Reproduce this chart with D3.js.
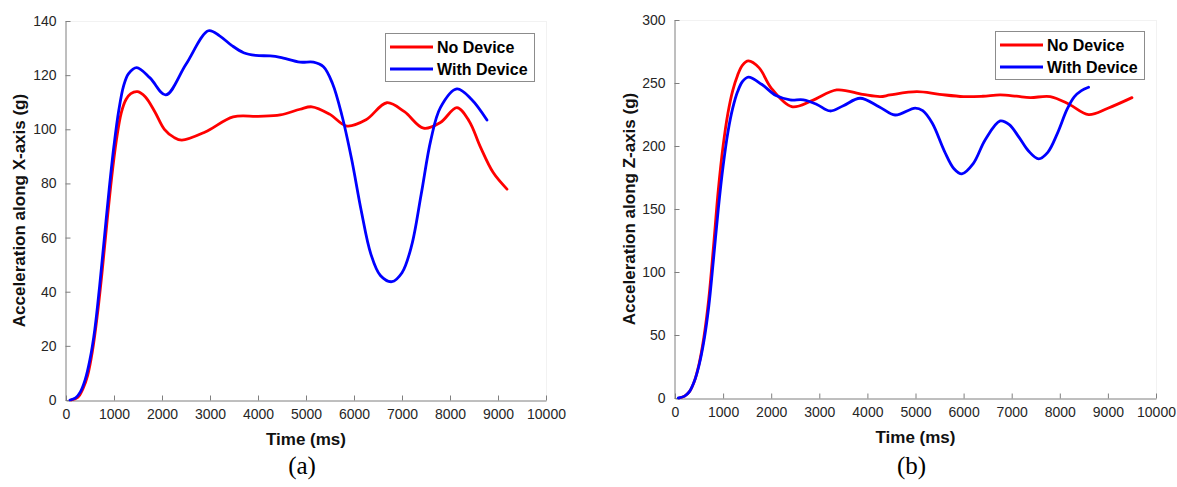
<!DOCTYPE html>
<html>
<head>
<meta charset="utf-8">
<script src="https://cdn.jsdelivr.net/npm/d3@7"></script>
<style>
  body { margin: 0; background: #fff; }
  svg { display: block; }
</style>
</head>
<body>
<svg id="chart" width="1177" height="487"></svg>
<script>
// ---------- DATA ----------
const seriesNames = ["No Device", "With Device"];
const seriesColors = ["#ff0000", "#0000ff"];

const xTicks = [0, 1000, 2000, 3000, 4000, 5000, 6000, 7000, 8000, 9000, 10000];
const yTicksA = [0, 20, 40, 60, 80, 100, 120, 140];
const yTicksB = [0, 50, 100, 150, 200, 250, 300];

// Panel (a): X-axis acceleration
const aNoTime = [110, 250, 350, 450, 550, 650, 750, 850, 950, 1050, 1150, 1250, 1350, 1494, 1650, 1850, 2050, 2250, 2412, 2900, 3482, 4000, 4462, 4878, 5122, 5500, 5851, 6250, 6685, 7050, 7449, 7800, 8144, 8400, 8630, 8900, 9187];
const aNoVal  = [0, 1, 4, 9, 18, 31, 47, 65, 82, 96, 106, 111, 113.2, 113.9, 112, 106.5, 100, 97, 96.0, 99, 104.6, 104.8, 105.3, 107.4, 108.3, 105.5, 101.2, 103.5, 109.8, 106.5, 100.4, 102.5, 108.0, 103, 93.6, 84, 77.9];
const aWithTime = [83, 200, 300, 400, 500, 600, 700, 800, 900, 1000, 1100, 1200, 1300, 1473, 1750, 2078, 2500, 2967, 3200, 3450, 3700, 3950, 4253, 4462, 4878, 5156, 5364, 5550, 5750, 5950, 6150, 6350, 6550, 6789, 7000, 7200, 7400, 7600, 7800, 8144, 8450, 8770];
const aWithVal  = [0, 0.8, 3, 7.5, 15, 26, 42, 60, 78, 94, 107, 116, 120.5, 122.8, 119, 112.7, 124, 136.4, 134.5, 131, 128.3, 127.3, 127.1, 126.6, 124.8, 124.8, 123.1, 117, 105, 89, 70, 54, 46, 43.7, 47, 57, 76, 96, 108, 114.9, 111, 103.4];

// Panel (b): Z-axis acceleration
const bNoTime = [90, 200, 300, 400, 500, 600, 700, 800, 900, 1000, 1100, 1200, 1300, 1400, 1525, 1750, 2000, 2427, 2850, 3363, 3900, 4265, 4473, 5028, 5500, 5997, 6400, 6761, 7100, 7385, 7801, 8200, 8598, 9000, 9500];
const bNoVal  = [0, 1.5, 5, 13, 27, 48, 78, 120, 165, 200, 226, 244, 256, 264, 267.5, 262, 246, 231.2, 236, 244.5, 241, 239.2, 240.5, 243.1, 241, 239.2, 239.5, 240.5, 239.5, 238.4, 239.2, 233, 224.9, 230, 238.4];
const bWithTime = [69, 200, 300, 400, 500, 600, 700, 800, 900, 1000, 1100, 1200, 1300, 1400, 1525, 1800, 2100, 2392, 2670, 2950, 3225, 3500, 3848, 4250, 4576, 4993, 5150, 5350, 5600, 5800, 5964, 6200, 6450, 6761, 6950, 7150, 7350, 7558, 7750, 7950, 8150, 8300, 8450, 8598];
const bWithVal  = [0, 1.5, 5, 13, 26, 45, 72, 110, 150, 184, 211, 230, 243, 251, 254.6, 249, 240, 236.6, 236.6, 233, 227.8, 232, 237.9, 231, 224.6, 230.1, 228, 218, 196, 182, 177.9, 186, 205, 219.9, 217, 207, 196, 189.8, 195, 210, 229, 239, 244, 246.6];

const panels = [
  { x0: 66, x1: 546, y0: 21, y1: 400, yMax: 140, yTicks: yTicksA,
    ylabel: "Acceleration along X-axis (g)", ylabelX: 19, tag: "(a)",
    series: [[aNoTime, aNoVal], [aWithTime, aWithVal]],
    legend: { x: 385, y: 33, w: 149, h: 48 } },
  { x0: 675, x1: 1156, y0: 20, y1: 398, yMax: 300, yTicks: yTicksB,
    ylabel: "Acceleration along Z-axis (g)", ylabelX: 629, tag: "(b)",
    series: [[bNoTime, bNoVal], [bWithTime, bWithVal]],
    legend: { x: 995, y: 31, w: 149, h: 48 } }
];

const svg = d3.select("#chart");
const axisColor = "#7f7f7f";
const tickTextColor = "#262626";

panels.forEach(p => {
  const x = d3.scaleLinear().domain([0, 10000]).range([p.x0, p.x1]);
  const y = d3.scaleLinear().domain([0, p.yMax]).range([p.y1, p.y0]);
  const g = svg.append("g");

  // faint box top/right
  g.append("line").attr("x1", p.x0).attr("x2", p.x1).attr("y1", p.y0 + 0.5).attr("y2", p.y0 + 0.5)
    .attr("stroke", "#f2f2f2");
  g.append("line").attr("x1", p.x1 + 0.5).attr("x2", p.x1 + 0.5).attr("y1", p.y0).attr("y2", p.y1)
    .attr("stroke", "#f2f2f2");

  // x axis
  const xa = g.append("g").attr("transform", `translate(0,${p.y1 + 0.5})`)
    .call(d3.axisBottom(x).tickValues(xTicks).tickFormat(d3.format("d")).tickSizeInner(-5).tickSizeOuter(0).tickPadding(9));
  // y axis
  const ya = g.append("g").attr("transform", `translate(${p.x0 - 0.5},0)`)
    .call(d3.axisLeft(y).tickValues(p.yTicks).tickFormat(d3.format("d")).tickSizeInner(-5).tickSizeOuter(0).tickPadding(9));
  [xa, ya].forEach(a => {
    a.select(".domain").attr("stroke", axisColor);
    a.selectAll(".tick line").attr("stroke", axisColor);
    a.selectAll(".tick text").attr("fill", tickTextColor)
      .style("font-family", "Liberation Sans, Arial, sans-serif").style("font-size", "14px");
  });

  // lines
  const line = d3.line().x(d => x(d[0])).y(d => y(d[1])).curve(d3.curveCatmullRom.alpha(0.5));
  p.series.forEach((s, i) => {
    const pts = s[0].map((t, k) => [t, s[1][k]]);
    g.append("path").datum(pts).attr("d", line)
      .attr("fill", "none").attr("stroke", seriesColors[i]).attr("stroke-width", 2.8)
      .attr("stroke-linejoin", "round").attr("stroke-linecap", "round");
  });

  // axis labels
  g.append("text").attr("x", (p.x0 + p.x1) / 2).attr("y", p.y1 + 45)
    .attr("text-anchor", "middle").attr("fill", "#111")
    .style("font-family", "Liberation Sans, Arial, sans-serif").style("font-size", "17px").style("font-weight", "bold")
    .text("Time (ms)");
  g.append("text").attr("transform", `translate(${p.ylabelX},${(p.y0 + p.y1) / 2}) rotate(-90)`)
    .attr("text-anchor", "middle").attr("dominant-baseline", "central").attr("fill", "#111")
    .style("font-family", "Liberation Sans, Arial, sans-serif").style("font-size", "17px").style("font-weight", "bold")
    .text(p.ylabel);

  // legend
  const L = p.legend;
  const lg = g.append("g");
  lg.append("rect").attr("x", L.x + 0.5).attr("y", L.y + 0.5).attr("width", L.w).attr("height", L.h)
    .attr("fill", "#fff").attr("stroke", "#8c8c8c");
  seriesNames.forEach((n, i) => {
    const cy = L.y + 14 + i * 22;
    lg.append("line").attr("x1", L.x + 5).attr("x2", L.x + 48).attr("y1", cy).attr("y2", cy)
      .attr("stroke", seriesColors[i]).attr("stroke-width", 2.8);
    lg.append("text").attr("x", L.x + 52).attr("y", cy).attr("dominant-baseline", "central")
      .attr("fill", "#000")
      .style("font-family", "Liberation Sans, Arial, sans-serif").style("font-size", "16px").style("font-weight", "bold")
      .text(n);
  });

  // panel tag
  g.append("text").attr("x", (p.x0 + p.x1) / 2 - 4).attr("y", 474)
    .attr("text-anchor", "middle").attr("fill", "#000")
    .style("font-family", "Liberation Serif, Times New Roman, serif").style("font-size", "25px")
    .text(p.tag);
});
</script>
</body>
</html>
